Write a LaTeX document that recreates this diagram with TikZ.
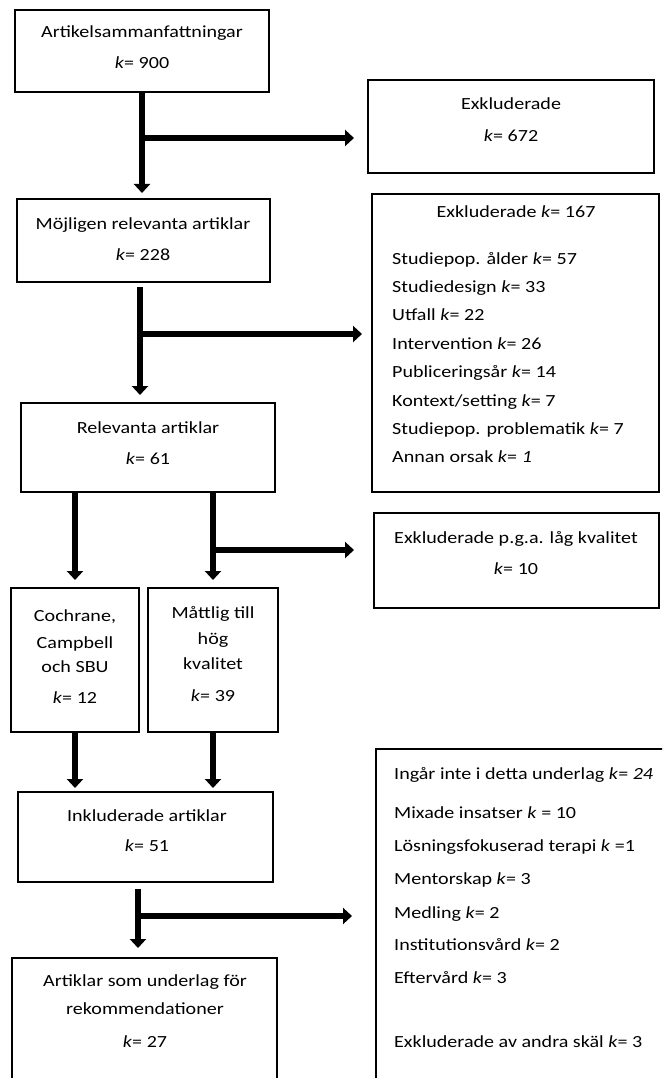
\documentclass[tikz,border=0pt]{standalone}
\usepackage{fontspec}
\setmainfont{Carlito}[FakeStretch=1.18]
\usetikzlibrary{arrows.meta,fit}
\begin{document}
\begin{tikzpicture}[x=1pt,y=-1pt,
  boxst/.style={draw, line width=2.8pt, inner sep=0pt, outer sep=0pt},
  txt/.style={anchor=base, inner sep=0pt, font=\fontsize{17}{20}\selectfont},
  txtl/.style={txt, anchor=base west},
  flow/.style={line width=6.5pt, -{Triangle[width=16pt,length=9pt]}}]
\useasboundingbox (0,0) rectangle (662,1078);
\fill[white] (0,0) rectangle (662,1078);
\clip (0,0) rectangle (662,1078);

% boxes
\node[boxst, fit={(15,10) (269,92)}] (b1) {};
\node[boxst, fit={(368,80) (654,173)}] (e1) {};
\node[boxst, fit={(17,199) (270,282)}] (b2) {};
\node[boxst, fit={(372,194) (659,492)}] (e2) {};
\node[boxst, fit={(21,403) (275,492)}] (b3) {};
\node[boxst, fit={(374,513) (659,608)}] (e3) {};
\node[boxst, fit={(11,588) (139,732)}] (c1) {};
\node[boxst, fit={(148,588) (278,732)}] (c2) {};
\node[boxst, fit={(18,792) (273,882)}] (b4) {};
\node[boxst, fit={(376,749) (700,1110)}] (e4) {};
\node[boxst, fit={(12,958) (277,1110)}] (b5) {};

% texts
\node[txt] (t1a) at (142,38) {Artikelsammanfattningar};
\node[txt] (t1b) at (142,69) {\textit{k}= 900};
\node[txt] (te1a) at (511,110) {Exkluderade};
\node[txt] (te1b) at (511,142) {\textit{k}= 672};
\node[txt] (t2a) at (143,229) {Möjligen relevanta artiklar};
\node[txt] (t2b) at (143,260) {\textit{k}= 228};
\node[txt] (te2h) at (516,218) {Exkluderade \textit{k}= 167};
\node[txtl] (te2a) at (392,264) {Studiepop. ålder \textit{k}= 57};
\node[txtl] (te2b) at (392,292.4) {Studiedesign \textit{k}= 33};
\node[txtl] (te2c) at (392,320.8) {Utfall \textit{k}= 22};
\node[txtl] (te2d) at (392,349.2) {Intervention \textit{k}= 26};
\node[txtl] (te2e) at (392,377.6) {Publiceringsår \textit{k}= 14};
\node[txtl] (te2f) at (392,406) {Kontext/setting \textit{k}= 7};
\node[txtl] (te2g) at (392,434.4) {Studiepop. problematik \textit{k}= 7};
\node[txtl] (te2i) at (392,462.8) {Annan orsak \textit{k}= \textit{1}};
\node[txt] (t3a) at (148,433) {Relevanta artiklar};
\node[txt] (t3b) at (148,464) {\textit{k}= 61};
\node[txt] (te3a) at (516,543) {Exkluderade p.g.a. låg kvalitet};
\node[txt] (te3b) at (516,574) {\textit{k}= 10};
\node[txt] (tc1a) at (75,621) {Cochrane,};
\node[txt] (tc1b) at (75,648) {Campbell};
\node[txt] (tc1c) at (75,672) {och SBU};
\node[txt] (tc1d) at (75,703) {\textit{k}= 12};
\node[txt] (tc2a) at (213,618) {Måttlig till};
\node[txt] (tc2b) at (213,644) {hög};
\node[txt] (tc2c) at (213,669) {kvalitet};
\node[txt] (tc2d) at (213,701) {\textit{k}= 39};
\node[txt] (t4a) at (147,821) {Inkluderade artiklar};
\node[txt] (t4b) at (147,851) {\textit{k}= 51};
\node[txtl] (te4a) at (394,779) {Ingår inte i detta underlag \textit{k}= \textit{24}};
\node[txtl] (te4b) at (394,818) {Mixade insatser \textit{k} = 10};
\node[txtl] (te4c) at (394,851) {Lösningsfokuserad terapi \textit{k} =1};
\node[txtl] (te4d) at (394,884) {Mentorskap \textit{k}= 3};
\node[txtl] (te4e) at (394,918) {Medling \textit{k}= 2};
\node[txtl] (te4f) at (394,950) {Institutionsvård \textit{k}= 2};
\node[txtl] (te4g) at (394,983) {Eftervård \textit{k}= 3};
\node[txtl] (te4h) at (394,1047) {Exkluderade av andra skäl \textit{k}= 3};
\node[txt] (t5a) at (145,986) {Artiklar som underlag för};
\node[txt] (t5b) at (145,1014) {rekommendationer};
\node[txt] (t5c) at (145,1047) {\textit{k}= 27};

% helper coordinates
\coordinate (y1) at (0,138);
\coordinate (y2) at (0,334);
\coordinate (y3) at (0,550);
\coordinate (y5) at (0,916);

% connectors
\draw[flow, shorten >=6pt] (b1.south) -- (b1.south |- b2.north);
\coordinate (j1) at (b1.south |- y1);
\draw[flow, shorten >=14pt] (j1) -- (j1 -| e1.west);

\coordinate (s2) at ([xshift=-3.5pt]b2.south);
\draw[flow, shorten <=5pt, shorten >=8pt] (s2) -- (s2 |- b3.north);
\coordinate (j2) at (s2 |- y2);
\draw[flow, shorten >=10pt] (j2) -- (j2 -| e2.west);

\draw[flow, shorten >=8pt] (c1.north |- b3.south) -- (c1.north);
\draw[flow, shorten >=8pt] (c2.north |- b3.south) -- (c2.north);
\coordinate (j3) at (c2.north |- y3);
\draw[flow, shorten >=20pt] (j3) -- (j3 -| e3.west);

\draw[flow, shorten >=4pt] (c1.south) -- (c1.south |- b4.north);
\draw[flow, shorten >=4pt] (c2.south) -- (c2.south |- b4.north);

\coordinate (s5) at ([xshift=-7.5pt]b4.south);
\draw[flow, shorten <=7pt, shorten >=10pt] (s5) -- (s5 |- b5.north);
\coordinate (j5) at (s5 |- y5);
\draw[flow, shorten >=24pt] (j5) -- (j5 -| e4.west);
\end{tikzpicture}
\end{document}
